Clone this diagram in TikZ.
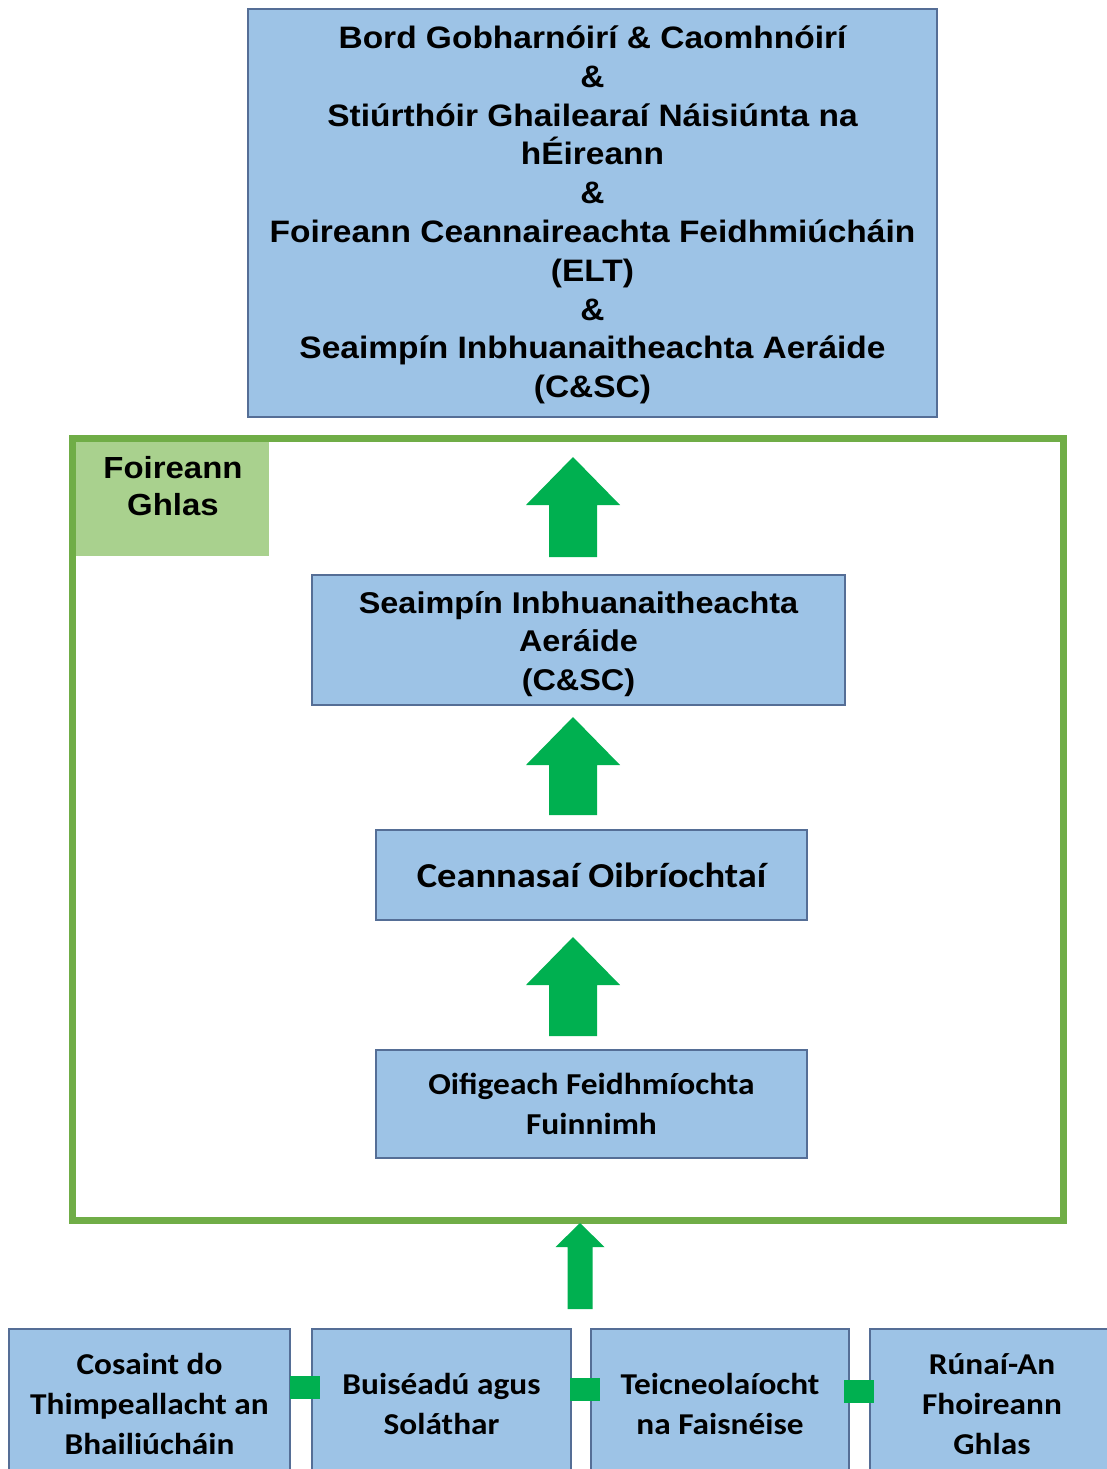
\documentclass[tikz,border=0pt]{standalone}
\usepackage{fontspec}
\usetikzlibrary{calc}
\newfontfamily\arialfont[FakeStretch=1.08]{Liberation Sans}
\newfontfamily\califont[FakeStretch=1.1]{Carlito}
\definecolor{boxfill}{RGB}{157,195,230}
\definecolor{boxline}{RGB}{85,110,150}
\definecolor{framegreen}{RGB}{112,173,71}
\definecolor{labelgreen}{RGB}{169,209,142}
\definecolor{arrowgreen}{RGB}{0,176,80}
\newcommand\blockup[5]{\fill[arrowgreen] ($(#1)+(-#3,0)$) -- ($(#1)+(#3,0)$) -- ($(#2)+(#3,#5)$) -- ($(#2)+(#4,#5)$) -- (#2) -- ($(#2)+(-#4,#5)$) -- ($(#2)+(-#3,#5)$) -- cycle;}
\begin{document}
\begin{tikzpicture}[x=1pt,y=-1pt,
  bluebox/.style={draw=boxline, line width=1.5pt, fill=boxfill, inner sep=0pt, outer sep=0pt, align=center, anchor=north west, text=black},
  arialtext/.style={font=\arialfont\bfseries\fontsize{#1}{38.8}\selectfont},
  calitext/.style={font=\califont\bfseries\fontsize{#1}{40}\selectfont},
  link/.style={draw=arrowgreen, line width=23pt}]
\path[use as bounding box] (0,0) rectangle (1107,1469);
\clip (0,0) rectangle (1107,1469);
\fill[white] (0,0) rectangle (1107,1469);

% top box
\node[bluebox, arialtext=31, text height=376pt, minimum width=689pt, minimum height=408pt] (top) at (248,9)
 {Bord Gobharnóirí \& Caomhnóirí\\\&\\Stiúrthóir Ghailearaí Náisiúnta na\\hÉireann\\\&\\Foireann Ceannaireachta Feidhmiúcháin\\(ELT)\\\&\\Seaimpín Inbhuanaitheachta Aeráide\\(C\&SC)};

% green frame and label
\node[draw=framegreen, line width=7pt, minimum width=990.5pt, minimum height=782pt, anchor=north west, inner sep=0pt, outer sep=0pt] (frame) at (72.5,438) {};
\node[fill=labelgreen, minimum width=193pt, minimum height=114pt, anchor=north west, inner sep=0pt, outer sep=0pt] (lblbox) at (76,442) {};
\node[align=center, inner sep=0pt, font=\arialfont\bfseries\fontsize{30.5}{37}\selectfont] (lbl) at (173,486) {Foireann\\Ghlas};

% inner boxes
\node[bluebox, arialtext=30, text height=107.6pt, minimum width=533pt, minimum height=130pt] (csc) at (312,575)
 {Seaimpín Inbhuanaitheachta\\Aeráide\\(C\&SC)};
\node[bluebox, calitext=35, minimum width=431pt, minimum height=90pt] (cean) at (376,830)
 {Ceannasaí Oibríochtaí};
\node[bluebox, calitext=30.4, minimum width=431pt, minimum height=108pt] (oif) at (376,1050)
 {Oifigeach Feidhmíochta\\Fuinnimh};

% bottom row
\node[bluebox, calitext=30.3, minimum width=281pt, minimum height=150pt] (b1) at (9,1329)
 {Cosaint do\\Thimpeallacht an\\Bhailiúcháin};
\node[bluebox, calitext=30.3, minimum width=259pt, minimum height=150pt] (b2) at (312,1329)
 {Buiséadú agus\\Soláthar};
\node[bluebox, calitext=30.3, minimum width=258pt, minimum height=150pt] (b3) at (591,1329)
 {Teicneolaíocht\\na Faisnéise};
\node[bluebox, calitext=30.3, minimum width=244pt, minimum height=150pt] (b4) at (870,1329)
 {Rúnaí-An\\Fhoireann\\Ghlas};

% connectors between bottom boxes
\draw[link] ([yshift=16.5pt]b1.east) -- ([yshift=16.5pt,xshift=8pt]b2.west);
\draw[link] ([yshift=15pt,xshift=-1pt]b2.east) -- ([yshift=15pt,xshift=9pt]b3.west);
\draw[link] ([yshift=12.5pt,xshift=-5pt]b3.east) -- ([yshift=12.5pt,xshift=4pt]b4.west);

% block arrows
\coordinate (a1b) at ($(csc.north)+(-5.5,-18)$);
\coordinate (a1t) at ($(top.south)+(-19.5,40)$);
\blockup{a1b}{a1t}{24}{47}{48}
\coordinate (a2b) at ($(cean.north)+(-18.5,-15)$);
\coordinate (a2t) at ($(csc.south)+(-5.5,12)$);
\blockup{a2b}{a2t}{24}{47}{48}
\coordinate (a3b) at ($(oif.north)+(-18.5,-14)$);
\coordinate (a3t) at ($(cean.south)+(-18.5,17)$);
\blockup{a3b}{a3t}{24}{47}{48}
\coordinate (rowgap) at ($(b2.north east)!0.5!(b3.north west)$);
\coordinate (a4b) at ($(rowgap)+(-1,-20)$);
\coordinate (a4t) at ($(rowgap |- frame.south)+(-1,3)$);
\blockup{a4b}{a4t}{12.5}{24.5}{24}
\end{tikzpicture}
\end{document}
